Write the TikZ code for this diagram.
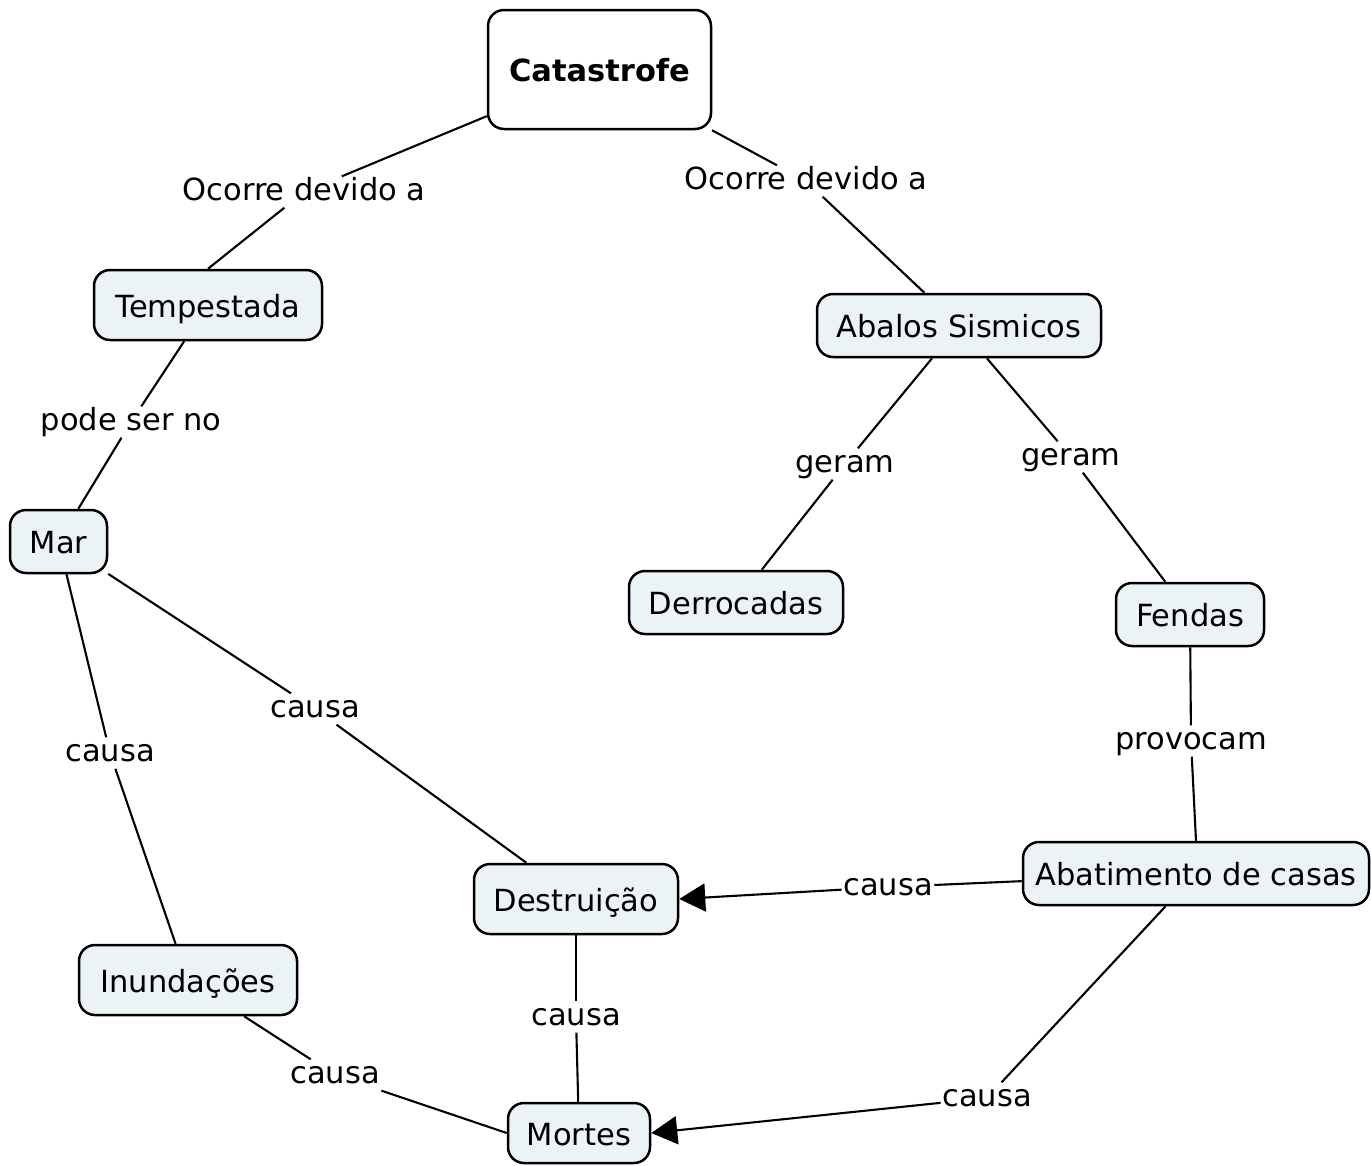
\documentclass[tikz,border=0pt]{standalone}
\usepackage{fontspec}
\setmainfont{DejaVu Sans}
\usetikzlibrary{arrows.meta}
\definecolor{boxfill}{RGB}{235,243,246}
\begin{document}
\begin{tikzpicture}[x=1pt,y=-1pt,
  fnt/.style={font=\fontsize{30.5}{36}\selectfont},
  concept/.style={fnt, text height=24pt, text depth=0pt, draw=black, line width=2.5pt, rounded corners=16pt, fill=boxfill, inner sep=0pt, align=center},
  lbl/.style={fnt, text height=22pt, text depth=6pt, inner sep=1.5pt},
  link/.style={line width=2.1pt},
  arr/.style={link, -{Triangle[length=26pt,width=28pt]}}]
\useasboundingbox (0,0) rectangle (1371,1165);
\fill[white] (0,0) rectangle (1371,1165);

% concepts
\node[concept, fill=white, minimum width=223pt, minimum height=119pt, font=\fontsize{30.5}{36}\selectfont\bfseries] (cat) at (599.5,69.5) {Catastrofe};
\node[concept, minimum width=228pt, minimum height=70pt] (temp) at (208,305) {Tempestada};
\node[concept, minimum width=284pt, minimum height=63pt] (abal) at (959,325.5) {Abalos Sismicos};
\node[concept, minimum width=97pt, minimum height=63pt] (mar) at (58.5,541.5) {Mar};
\node[concept, minimum width=214pt, minimum height=63pt] (derr) at (736,602.5) {Derrocadas};
\node[concept, minimum width=148pt, minimum height=63pt] (fend) at (1190,614.5) {Fendas};
\node[concept, minimum width=346pt, minimum height=63pt] (abat) at (1196,873.5) {Abatimento de casas};
\node[concept, minimum width=204pt, minimum height=70pt] (dest) at (576,899) {Destruição};
\node[concept, minimum width=218pt, minimum height=70pt] (inun) at (188,980) {Inundações};
\node[concept, minimum width=142pt, minimum height=60pt] (mort) at (579,1133) {Mortes};

% linking phrases
\node[lbl] (l1) at (304,192) {Ocorre devido a};
\node[lbl] (l2) at (806,181) {Ocorre devido a};
\node[lbl] (l3) at (131,422) {pode ser no};
\node[lbl] (l4) at (845,464) {geram};
\node[lbl] (l5) at (1071,457) {geram};
\node[lbl] (l6) at (315,709) {causa};
\node[lbl] (l7) at (110,753) {causa};
\node[lbl] (l8) at (1191,741) {provocam};
\node[lbl] (l9) at (888,887) {causa};
\node[lbl] (l10) at (576,1017) {causa};
\node[lbl] (l11) at (335,1075) {causa};
\node[lbl] (l12) at (987,1098) {causa};

% connectors
\draw[link] (cat) -- (l1);
\draw[link] (l1) -- (temp.north);
\draw[link] (cat) -- (l2);
\draw[link] (l2) -- (abal);
\draw[link] (temp) -- (l3);
\draw[link] (l3) -- (mar);
\draw[link] (abal) -- (l4);
\draw[link] (l4) -- (derr);
\draw[link] (abal) -- (l5);
\draw[link] (l5) -- (fend);
\draw[link] (mar) -- (l6);
\draw[link] (l6) -- (dest);
\draw[link] (mar) -- (l7);
\draw[link] (l7) -- (inun);
\draw[link] (fend) -- (l8);
\draw[link] (l8) -- (abat.north);
\draw[link] (abat) -- (l9);
\draw[arr] (l9) -- (dest.east);
\draw[link] (dest) -- (l10);
\draw[link] (l10) -- (mort);
\draw[link] (inun) -- (l11);
\draw[link] (l11) -- (mort.west);
\draw[link] (abat) -- (l12);
\draw[arr] (l12) -- (mort.east);
\end{tikzpicture}
\end{document}
